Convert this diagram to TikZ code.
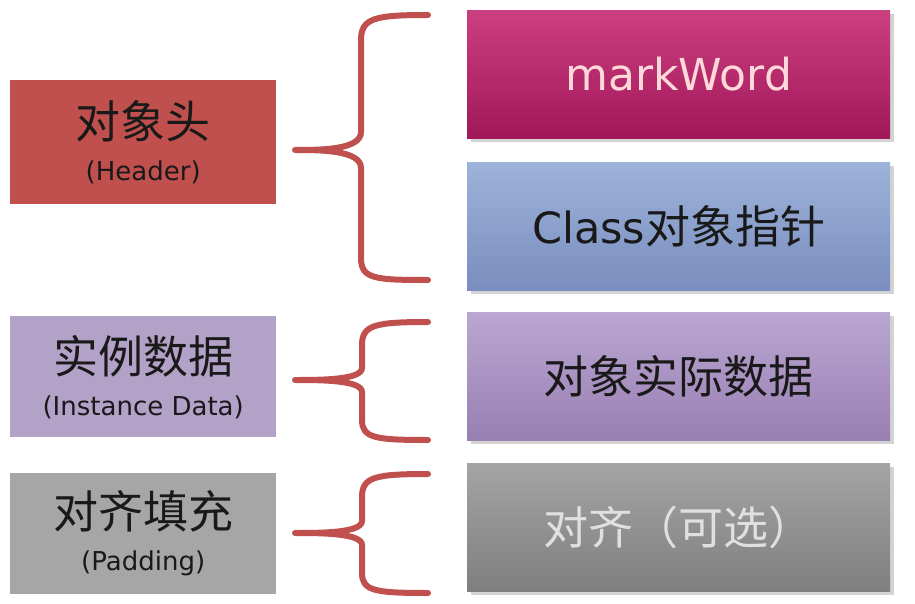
\documentclass[tikz,border=0pt]{standalone}
\usepackage{fontspec}
\setmainfont{Noto Sans CJK SC}
\newfontfamily\lat{DejaVu Sans}
\usetikzlibrary{shadows}

\definecolor{hdrred}{HTML}{C0504D}
\definecolor{instpurple}{HTML}{B3A2C7}
\definecolor{padgray}{HTML}{A6A6A6}
\definecolor{markTop}{HTML}{CC3F80}
\definecolor{markBot}{HTML}{A0185A}
\definecolor{classTop}{HTML}{9DB3DA}
\definecolor{classBot}{HTML}{7A8DBE}
\definecolor{dataTop}{HTML}{BBA6D2}
\definecolor{dataBot}{HTML}{9880B2}
\definecolor{alignTop}{HTML}{A4A4A4}
\definecolor{alignBot}{HTML}{7F7F7F}

\newcommand{\partsub}[1]{{\lat\fontsize{26}{42}\selectfont #1}}

\tikzset{
  partbox/.style={anchor=north west, minimum width=266pt, minimum height=124pt,
    inner sep=0pt, align=center, text=black!90, font=\fontsize{45}{42}\selectfont},
  fieldbox/.style={anchor=north west, minimum width=423pt, minimum height=128pt,
    inner sep=0pt, font=\fontsize{45}{48}\selectfont,
    drop shadow={opacity=0.35, shadow xshift=4pt, shadow yshift=-4pt}},
  bracket/.style={hdrred, line width=6pt, line cap=round, line join=round}
}

\begin{document}
\begin{tikzpicture}[x=1pt, y=-1pt]
  \useasboundingbox (0,0) rectangle (915,604);

  % left: object layout parts
  \node[partbox, fill=hdrred] (hdr) at (10,80) {对象头\\\partsub{(Header)}};
  \node[partbox, fill=instpurple, minimum height=121pt] (inst) at (10,316) {实例数据\\\partsub{(Instance Data)}};
  \node[partbox, fill=padgray, minimum height=121pt] (pad) at (10,473) {对齐填充\\\partsub{(Padding)}};

  % right: contents
  \node[fieldbox, top color=markTop, bottom color=markBot, text=pink!60!white] (mark) at (467,10)
    {\lat\fontsize{44}{48}\selectfont markWord};
  \node[fieldbox, top color=classTop, bottom color=classBot, text=black!90] (klass) at (467,162)
    {{\lat\fontsize{43}{48}\selectfont Class}对象指针};
  \node[fieldbox, top color=dataTop, bottom color=dataBot, text=black!90] (data) at (467,312) {对象实际数据};
  \node[fieldbox, top color=alignTop, bottom color=alignBot, text=white!88!black] (align) at (467,463) {对齐（可选）};

  % braces
  \draw[bracket] (428,15) .. controls (375,15) and (361,18) .. (361,40)
    -- (361,132) .. controls (361,150) and (320,150) .. (295,150)
    .. controls (320,150) and (361,150) .. (361,168)
    -- (361,258) .. controls (361,279) and (375,280) .. (428,280);
  \draw[bracket] (428,322) .. controls (375,322) and (362,325) .. (362,345)
    -- (362,368) .. controls (362,380) and (320,380) .. (295,380)
    .. controls (320,380) and (362,380) .. (362,392)
    -- (362,420) .. controls (362,438) and (375,440) .. (428,440);
  \draw[bracket] (428,474) .. controls (375,474) and (362,477) .. (362,497)
    -- (362,521) .. controls (362,533) and (320,533) .. (295,533)
    .. controls (320,533) and (362,533) .. (362,545)
    -- (362,573) .. controls (362,591) and (375,593) .. (428,593);
\end{tikzpicture}
\end{document}
